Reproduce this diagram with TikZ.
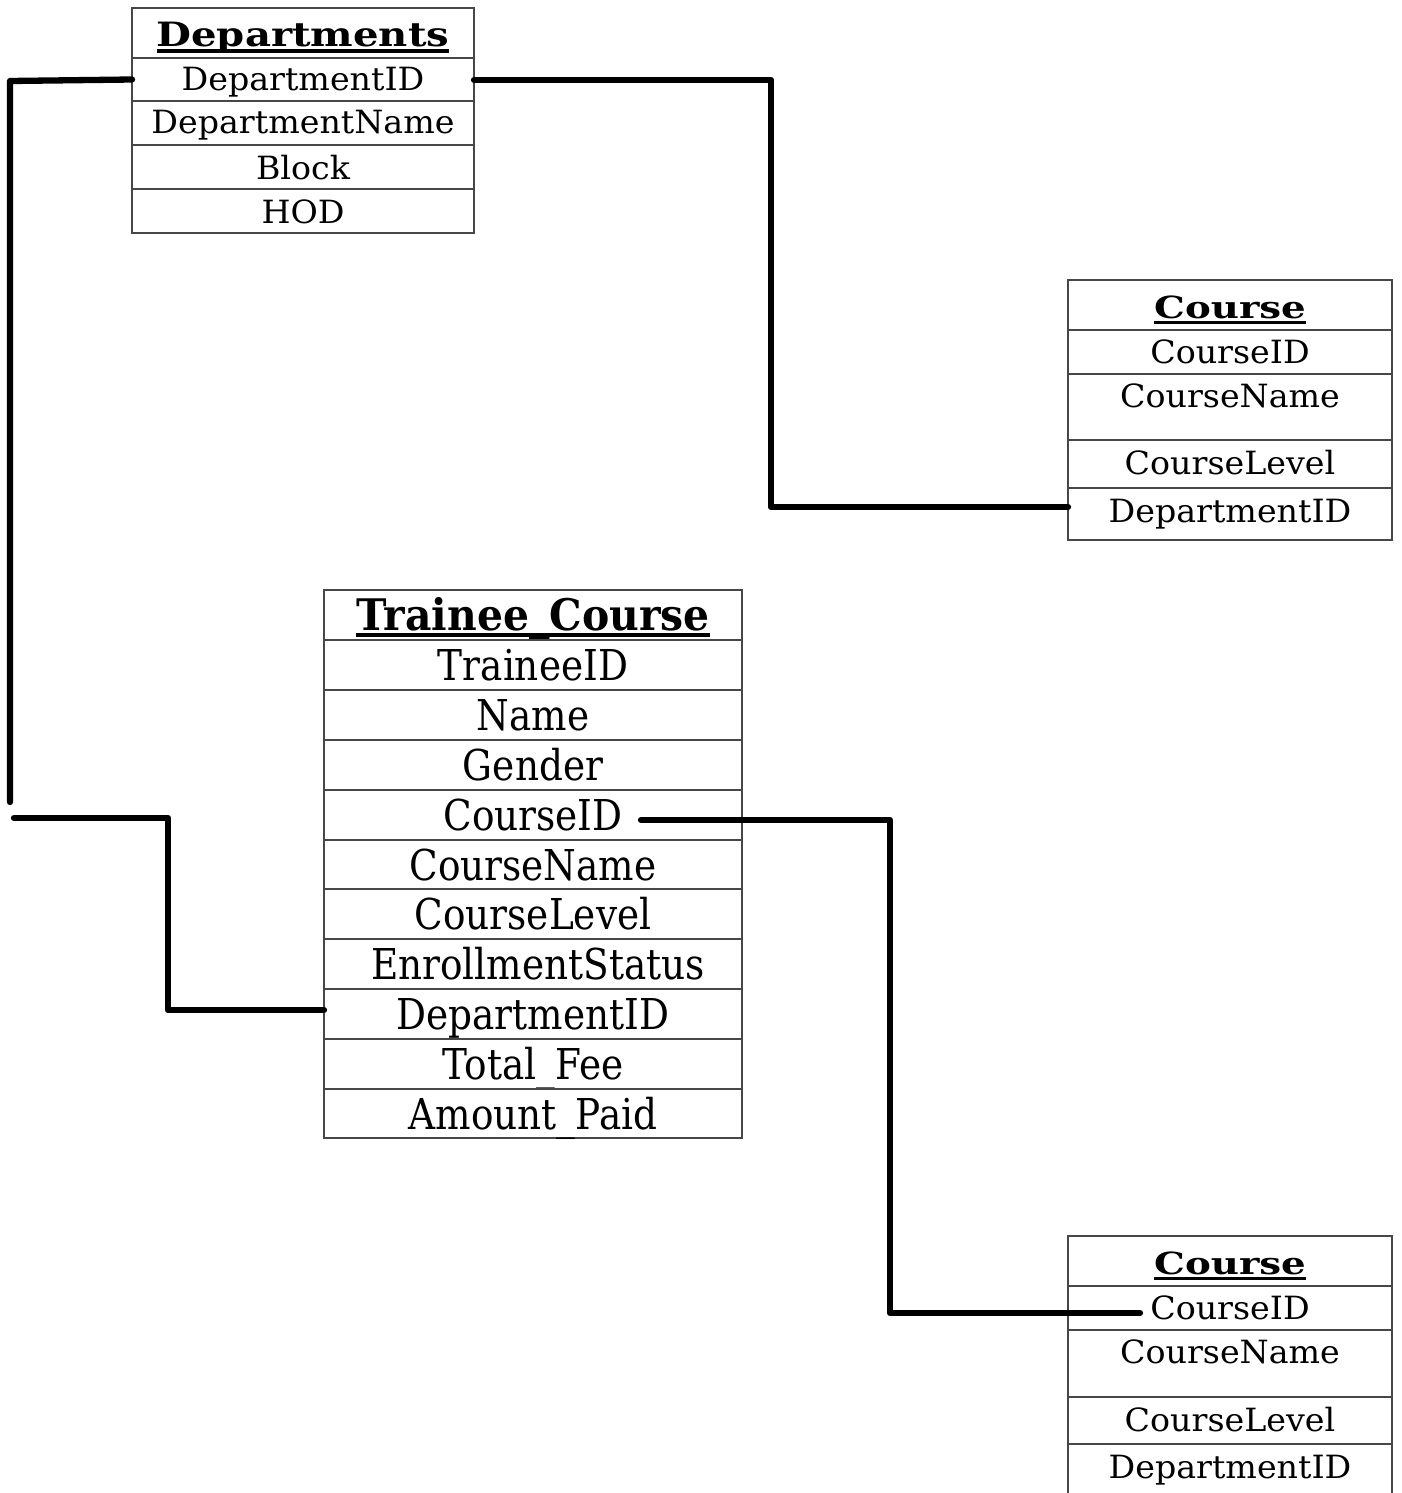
\documentclass[tikz,border=0pt]{standalone}
\usepackage{fontspec}
\newfontfamily\fldA[FakeStretch=1.04]{DejaVu Serif}
\newfontfamily\fldB[FakeStretch=0.88]{DejaVu Serif}
\newfontfamily\hdA[FakeStretch=1.2]{DejaVu Serif}
\newfontfamily\hdB[FakeStretch=0.94]{DejaVu Serif}
\newfontfamily\hdC[FakeStretch=1.27]{DejaVu Serif}
\newcommand\hdul[3]{\setbox0\hbox{#3}\rlap{\rule[#1]{\wd0}{#2}}\box0}
\tikzset{
  cell/.style={draw=black!72, line width=1.3pt, rectangle, inner sep=0pt, outer sep=0pt, anchor=north west, align=center},
  cellA/.style={cell, minimum width=342pt},
  cellB/.style={cell, minimum width=418pt},
  cellC/.style={cell, minimum width=324pt},
  fA/.style={font=\fldA\fontsize{32}{33}\selectfont},
  fB/.style={font=\fldB\fontsize{42.5}{44}\selectfont},
  conn/.style={line width=6.3pt, line cap=round, line join=round},
}
\begin{document}
\begin{tikzpicture}[x=1pt,y=-1pt]
\useasboundingbox (0,0) rectangle (1402,1493);
% Departments
\node[cellA, minimum height=50pt, text height=39pt, text depth=11pt, font=\hdA\bfseries\fontsize{33.5}{34}\selectfont] (dA-h) at (132,8) {\hdul{-6pt}{3.5pt}{Departments}};
\node[cellA, fA, minimum height=43pt, text height=33pt, text depth=10pt] (dA-id) at (132,58) {DepartmentID};
\node[cellA, fA, minimum height=44pt, text height=33pt, text depth=11pt] (dA-name) at (132,101) {DepartmentName};
\node[cellA, fA, minimum height=44pt, text height=34pt, text depth=10pt] (dA-block) at (132,145) {Block};
\node[cellA, fA, minimum height=44pt, text height=34pt, text depth=10pt] (dA-hod) at (132,189) {HOD};
% Course (top)
\node[cellC, minimum height=50pt, text height=38pt, text depth=12pt, font=\hdC\bfseries\fontsize{30.5}{31}\selectfont] (cA-h) at (1068,280) {\hdul{-5.5pt}{3pt}{Course}};
\node[cellC, fA, minimum height=44pt, text height=33pt, text depth=11pt] (cA-id) at (1068,330) {CourseID};
\node[cellC, fA, minimum height=66pt, text height=33pt, text depth=33pt] (cA-name) at (1068,374) {CourseName};
\node[cellC, fA, minimum height=48pt, text height=34pt, text depth=14pt] (cA-level) at (1068,440) {CourseLevel};
\node[cellC, fA, minimum height=52pt, text height=34pt, text depth=18pt] (cA-dep) at (1068,488) {DepartmentID};
% Trainee_Course
\node[cellB, minimum height=50pt, text height=40pt, text depth=10pt, font=\hdB\bfseries\fontsize{43.5}{45}\selectfont] (tc-h) at (324,590) {\hdul{-7pt}{4pt}{Trainee\_Course}};
\node[cellB, fB, minimum height=50pt, text height=40pt, text depth=10pt] (tc-tid) at (324,640) {TraineeID};
\node[cellB, fB, minimum height=50pt, text height=40pt, text depth=10pt] (tc-name) at (324,690) {Name};
\node[cellB, fB, minimum height=50pt, text height=40pt, text depth=10pt] (tc-gender) at (324,740) {Gender};
\node[cellB, fB, minimum height=50pt, text height=40pt, text depth=10pt] (tc-cid) at (324,790) {CourseID};
\node[cellB, fB, minimum height=49pt, text height=40pt, text depth=9pt] (tc-cname) at (324,840) {CourseName};
\node[cellB, fB, minimum height=50pt, text height=40pt, text depth=10pt] (tc-clevel) at (324,889) {CourseLevel};
\node[cellB, fB, minimum height=50pt, text height=40pt, text depth=10pt] (tc-status) at (324,939) {};
\node[font=\fldB\fontsize{42.5}{44}\selectfont, inner sep=0pt, text height=40pt, text depth=10pt, anchor=north] (tc-status-t) at (538,939) {EnrollmentStatus};
\node[cellB, fB, minimum height=50pt, text height=40pt, text depth=10pt] (tc-dep) at (324,989) {DepartmentID};
\node[cellB, fB, minimum height=50pt, text height=40pt, text depth=10pt] (tc-fee) at (324,1039) {Total\_Fee};
\node[cellB, fB, minimum height=49pt, text height=40pt, text depth=9pt] (tc-paid) at (324,1089) {Amount\_Paid};
% Course (bottom)
\node[cellC, minimum height=50pt, text height=38pt, text depth=12pt, font=\hdC\bfseries\fontsize{30.5}{31}\selectfont] (cB-h) at (1068,1236) {\hdul{-5.5pt}{3pt}{Course}};
\node[cellC, fA, minimum height=44pt, text height=33pt, text depth=11pt] (cB-id) at (1068,1286) {CourseID};
\node[cellC, fA, minimum height=67pt, text height=33pt, text depth=34pt] (cB-name) at (1068,1330) {CourseName};
\node[cellC, fA, minimum height=47pt, text height=34pt, text depth=13pt] (cB-level) at (1068,1397) {CourseLevel};
\node[cellC, fA, draw=none, minimum height=49pt, text height=34pt, text depth=15pt] (cB-dep) at (1068,1444) {DepartmentID};
\draw[draw=black!72, line width=1.3pt] (cB-dep.north west) -- (cB-dep.south west);
\draw[draw=black!72, line width=1.3pt] (cB-dep.north east) -- (cB-dep.south east);
% connectors
\coordinate (c1end) at (10,802);
\coordinate (c1bstart) at (14,818);
\coordinate (c3start) at (641,820);
\coordinate (c3end) at (1140,1313);
\draw[conn] (dA-id.west) -- (10,81) -- (c1end);
\draw[conn] (c1bstart) -- (168,818) -- (168,1010) -- ([yshift=4pt]tc-dep.west);
\draw[conn] ([yshift=-0.5pt]dA-id.east) -- (771,80) -- (771,507) -- ([yshift=7pt]cA-dep.west);
\draw[conn] (c3start) -- (890,820) -- (890,1313) -- (c3end);
\end{tikzpicture}
\end{document}
